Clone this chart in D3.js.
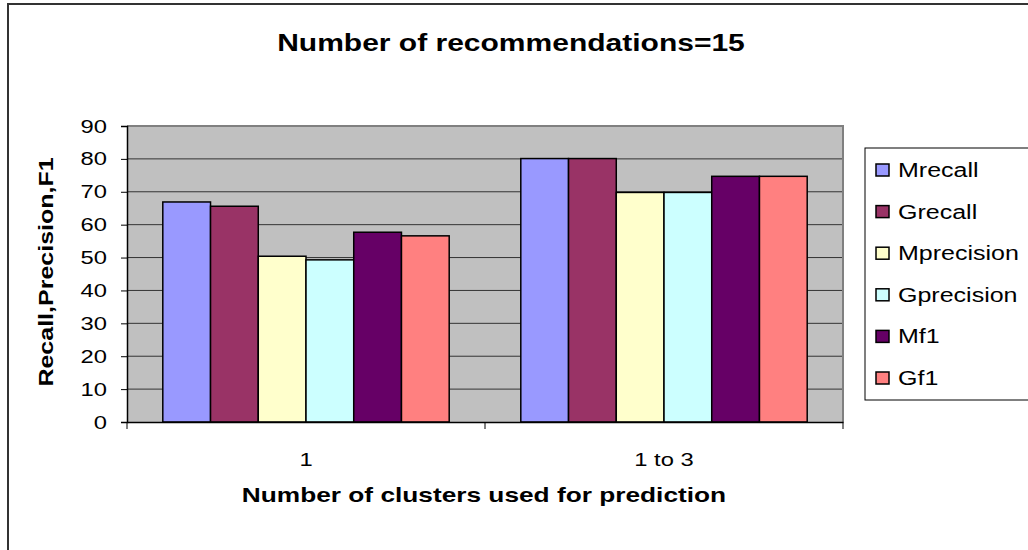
<!DOCTYPE html>
<html>
<head>
<meta charset="utf-8">
<script src="https://cdn.jsdelivr.net/npm/d3@7"></script>
<style>
  body { margin: 0; background: #fff; }
  svg { font-family: "Liberation Sans", Arial, sans-serif; }
</style>
</head>
<body>
<script>
const categories = ["1", "1 to 3"];
const seriesNames = ["Mrecall", "Grecall", "Mprecision", "Gprecision", "Mf1", "Gf1"];
const seriesColors = ["#9999ff", "#993366", "#ffffcc", "#ccffff", "#660066", "#ff8080"];
const mrecall = [66.9, 80.1];
const grecall = [65.6, 80.1];
const mprecision = [50.4, 69.8];
const gprecision = [49.3, 69.8];
const mf1 = [57.7, 74.7];
const gf1 = [56.6, 74.7];
const yTicks = [0, 10, 20, 30, 40, 50, 60, 70, 80, 90];

const seriesValues = [mrecall, grecall, mprecision, gprecision, mf1, gf1];

const width = 1028, height = 550;
const plot = { left: 127, right: 843, top: 126, bottom: 422 };

const svg = d3.select("body").append("svg")
    .attr("width", width)
    .attr("height", height);

// outer chart frame
svg.append("path")
    .attr("d", `M8,${height} V4 H${width}`)
    .attr("fill", "none")
    .attr("stroke", "#333")
    .attr("stroke-width", 2);

const x = d3.scaleBand().domain(categories).range([plot.left, plot.right]);
// Excel gap width 150% -> 0.75 bar width on each side of a cluster
const x1 = d3.scaleBand().domain(seriesNames)
    .range([0, x.bandwidth()])
    .paddingOuter(0.75)
    .paddingInner(0);
const y = d3.scaleLinear().domain([0, 90]).range([plot.bottom, plot.top]);

// plot background
svg.append("rect")
    .attr("x", plot.left).attr("y", plot.top)
    .attr("width", plot.right - plot.left).attr("height", plot.bottom - plot.top)
    .attr("fill", "#c0c0c0");

// gridlines
svg.append("g")
    .selectAll("line")
    .data(yTicks.filter(d => d > 0 && d < 90))
    .enter().append("line")
    .attr("x1", plot.left).attr("x2", plot.right)
    .attr("y1", d => y(d)).attr("y2", d => y(d))
    .attr("stroke", "#333").attr("stroke-width", 1);

// plot border top/right
svg.append("path")
    .attr("d", `M${plot.left},${plot.top} H${plot.right} V${plot.bottom}`)
    .attr("fill", "none").attr("stroke", "#808080").attr("stroke-width", 2);

// bars
const groups = svg.append("g").selectAll("g")
    .data(categories)
    .enter().append("g")
    .attr("transform", d => `translate(${x(d)},0)`);

groups.selectAll("rect")
    .data((c, i) => seriesNames.map((s, j) => ({ s, v: seriesValues[j][i], color: seriesColors[j] })))
    .enter().append("rect")
    .attr("x", d => x1(d.s))
    .attr("width", x1.bandwidth())
    .attr("y", d => y(d.v))
    .attr("height", d => y(0) - y(d.v))
    .attr("fill", d => d.color)
    .attr("stroke", "#000")
    .attr("stroke-width", 1.5);

// y axis
const yAxis = svg.append("g")
    .attr("transform", `translate(${plot.left},0)`)
    .call(d3.axisLeft(y).tickValues(yTicks).tickSize(6).tickPadding(14));
yAxis.select(".domain").attr("stroke", "#000").attr("stroke-width", 1.5);
yAxis.selectAll(".tick line").attr("stroke", "#000");
yAxis.selectAll("text").attr("font-size", 19).attr("fill", "#000")
    .attr("font-family", "Liberation Sans, Arial, sans-serif");

// x axis
const xAxis = svg.append("g")
    .attr("transform", `translate(0,${plot.bottom})`)
    .call(d3.axisBottom(x).tickSize(0).tickPadding(31));
xAxis.select(".domain").attr("stroke", "#000").attr("stroke-width", 1.5);
xAxis.selectAll("text").attr("font-size", 19).attr("fill", "#000")
    .attr("font-family", "Liberation Sans, Arial, sans-serif");
// category separator ticks
xAxis.append("g").selectAll("line")
    .data([plot.left, x("1 to 3"), plot.right])
    .enter().append("line")
    .attr("x1", d => d).attr("x2", d => d)
    .attr("y1", 0).attr("y2", 7)
    .attr("stroke", "#000");

// title
svg.append("text")
    .attr("x", 511).attr("y", 51)
    .attr("text-anchor", "middle")
    .attr("font-size", 24).attr("font-weight", "bold")
    .text("Number of recommendations=15");

// axis titles
svg.append("text")
    .attr("x", 484).attr("y", 502)
    .attr("text-anchor", "middle")
    .attr("font-size", 21).attr("font-weight", "bold")
    .text("Number of clusters used for prediction");

svg.append("text")
    .attr("transform", `translate(53,272) rotate(-90)`)
    .attr("text-anchor", "middle")
    .attr("font-size", 20).attr("font-weight", "bold")
    .text("Recall,Precision,F1");

// legend
const legend = svg.append("g");
legend.append("rect")
    .attr("x", 865).attr("y", 148)
    .attr("width", 200).attr("height", 252)
    .attr("fill", "#fff").attr("stroke", "#000").attr("stroke-width", 1);

const ly = d3.scalePoint().domain(seriesNames).range([170, 378]);
const items = legend.selectAll("g.item")
    .data(seriesNames)
    .enter().append("g")
    .attr("transform", d => `translate(876,${ly(d)})`);
items.append("rect")
    .attr("x", 0).attr("y", -6)
    .attr("width", 13).attr("height", 12)
    .attr("fill", (d, i) => seriesColors[i])
    .attr("stroke", "#000").attr("stroke-width", 1.5);
items.append("text")
    .attr("x", 22).attr("y", 7)
    .attr("font-size", 20)
    .text(d => d);

// the original renderer draws glyphs about 25% wider than Liberation Sans
svg.selectAll("text").each(function() {
    const w = this.getComputedTextLength();
    d3.select(this).attr("textLength", w * 1.25).attr("lengthAdjust", "spacingAndGlyphs");
});
</script>
</body>
</html>
